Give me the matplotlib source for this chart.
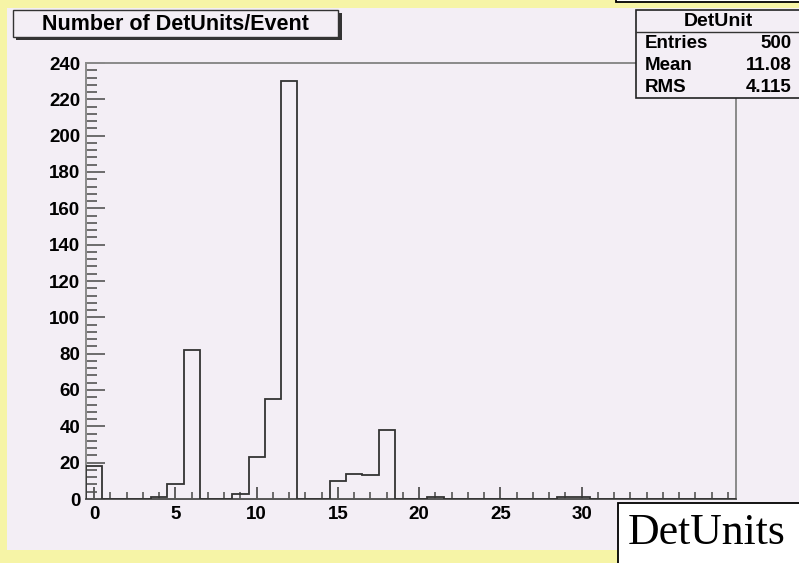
import matplotlib
matplotlib.use("Agg")
import matplotlib.pyplot as plt
from matplotlib.patches import Rectangle
from matplotlib.ticker import MultipleLocator
import numpy as np

# ---- data ----
bin_edges = np.arange(-0.5, 40.5, 1.0)
counts = [18, 0, 0, 0, 1, 8, 82, 0, 0, 3,
          23, 55, 230, 0, 0, 10, 14, 13, 38, 0,
          0, 1, 0, 0, 0, 0, 0, 0, 0, 1,
          1, 0, 0, 0, 0, 0, 0, 0, 0, 0]
title_text = "Number of DetUnits/Event"
stats_name = "DetUnit"
stats_labels = ["Entries", "Mean", "RMS"]
stats_values = ["500", "11.08", "4.115"]
xlabel_text = "DetUnits"
x_major = [0, 5, 10, 15, 20, 25, 30]
y_major = list(range(0, 241, 20))

W, H = 799, 563
fig = plt.figure(figsize=(W / 100, H / 100), dpi=100)
fig.patch.set_facecolor("#f6f4a6")

def fx(px):
    return px / W

def fy(py):
    return 1 - py / H

pad_color = "#f3eef5"
# pad area
fig.patches.append(Rectangle((fx(7), fy(550)), fx(W - 7 + 5), (550 - 8) / H,
                             transform=fig.transFigure, facecolor=pad_color,
                             edgecolor="none", zorder=-5))

# axes
left, right, top, bottom = 86, 736, 63, 499
ax = fig.add_axes([fx(left), fy(bottom), (right - left) / W, (bottom - top) / H])
ax.set_zorder(1)
ax.set_facecolor(pad_color)
ax.stairs(counts, bin_edges, color="#333333", linewidth=1.3, zorder=3)
ax.set_xlim(-0.5, 39.5)
ax.set_ylim(0, 240)
ax.set_xticks(x_major)
ax.set_yticks(y_major)
ax.xaxis.set_minor_locator(MultipleLocator(1))
ax.yaxis.set_minor_locator(MultipleLocator(4))
ax.tick_params(axis="x", which="major", direction="in", length=9, width=1.2,
               color="#444444", pad=5, labelsize=13.5)
ax.tick_params(axis="x", which="minor", direction="in", length=5, width=1.2,
               color="#555555")
ax.tick_params(axis="y", which="major", direction="in", length=14, width=1.2,
               color="#555555", pad=4, labelsize=13.5)
ax.tick_params(axis="y", which="minor", direction="in", length=8, width=1.2,
               color="#555555")
for lab in ax.get_xticklabels() + ax.get_yticklabels():
    lab.set_fontweight("bold")
    lab.set_family("Liberation Sans")
for s in ["top", "right", "left"]:
    ax.spines[s].set_color("#8a8a8a")
    ax.spines[s].set_linewidth(1.4)
ax.spines["bottom"].set_color("#555555")
ax.spines["bottom"].set_linewidth(1.4)

# title box with shadow
fig.patches.append(Rectangle((fx(16), fy(40)), fx(340 - 16 + 2), (40 - 13) / H,
                             transform=fig.transFigure, facecolor="#333333",
                             edgecolor="none", zorder=4))
fig.patches.append(Rectangle((fx(13), fy(37)), fx(338 - 13), (37 - 10) / H,
                             transform=fig.transFigure, facecolor=pad_color,
                             edgecolor="#333333", linewidth=1.0, zorder=5))
fig.text(fx(175), fy(24), title_text, ha="center", va="center", fontsize=15.5,
         fontweight="bold", family="Liberation Sans", zorder=6)

# top-right clipped box
fig.patches.append(Rectangle((fx(616), fy(2)), fx(200), 10 / H,
                             transform=fig.transFigure, facecolor="white",
                             edgecolor="black", linewidth=1.3, zorder=4))

# stats box
fig.patches.append(Rectangle((fx(636), fy(98)), fx(170), (98 - 10) / H,
                             transform=fig.transFigure, facecolor=pad_color,
                             edgecolor="#222222", linewidth=1.2, zorder=5))
fig.lines.append(plt.Line2D([fx(636), fx(799)], [fy(32), fy(32)],
                            transform=fig.transFigure, color="#333333",
                            linewidth=1.0, zorder=6))
fig.text(fx(718), fy(21), stats_name, ha="center", va="center", fontsize=14,
         fontweight="bold", family="Liberation Sans", zorder=7)
for i, (lab, val) in enumerate(zip(stats_labels, stats_values)):
    yy = fy(44 + i * 21.5)
    fig.text(fx(645), yy, lab, ha="left", va="center", fontsize=13.5,
             fontweight="bold", family="Liberation Sans", zorder=7)
    fig.text(fx(792), yy, val, ha="right", va="center", fontsize=13.5,
             fontweight="bold", family="Liberation Sans", zorder=7)

# x label box
fig.patches.append(Rectangle((fx(618), fy(570)), fx(200), (570 - 503) / H,
                             transform=fig.transFigure, facecolor="white",
                             edgecolor="black", linewidth=1.3, zorder=5))
fig.text(fx(707), fy(533), xlabel_text, ha="center", va="center", fontsize=31.5,
         family="Liberation Serif", zorder=6)

fig.savefig("out.png", dpi=100, facecolor=fig.get_facecolor())
